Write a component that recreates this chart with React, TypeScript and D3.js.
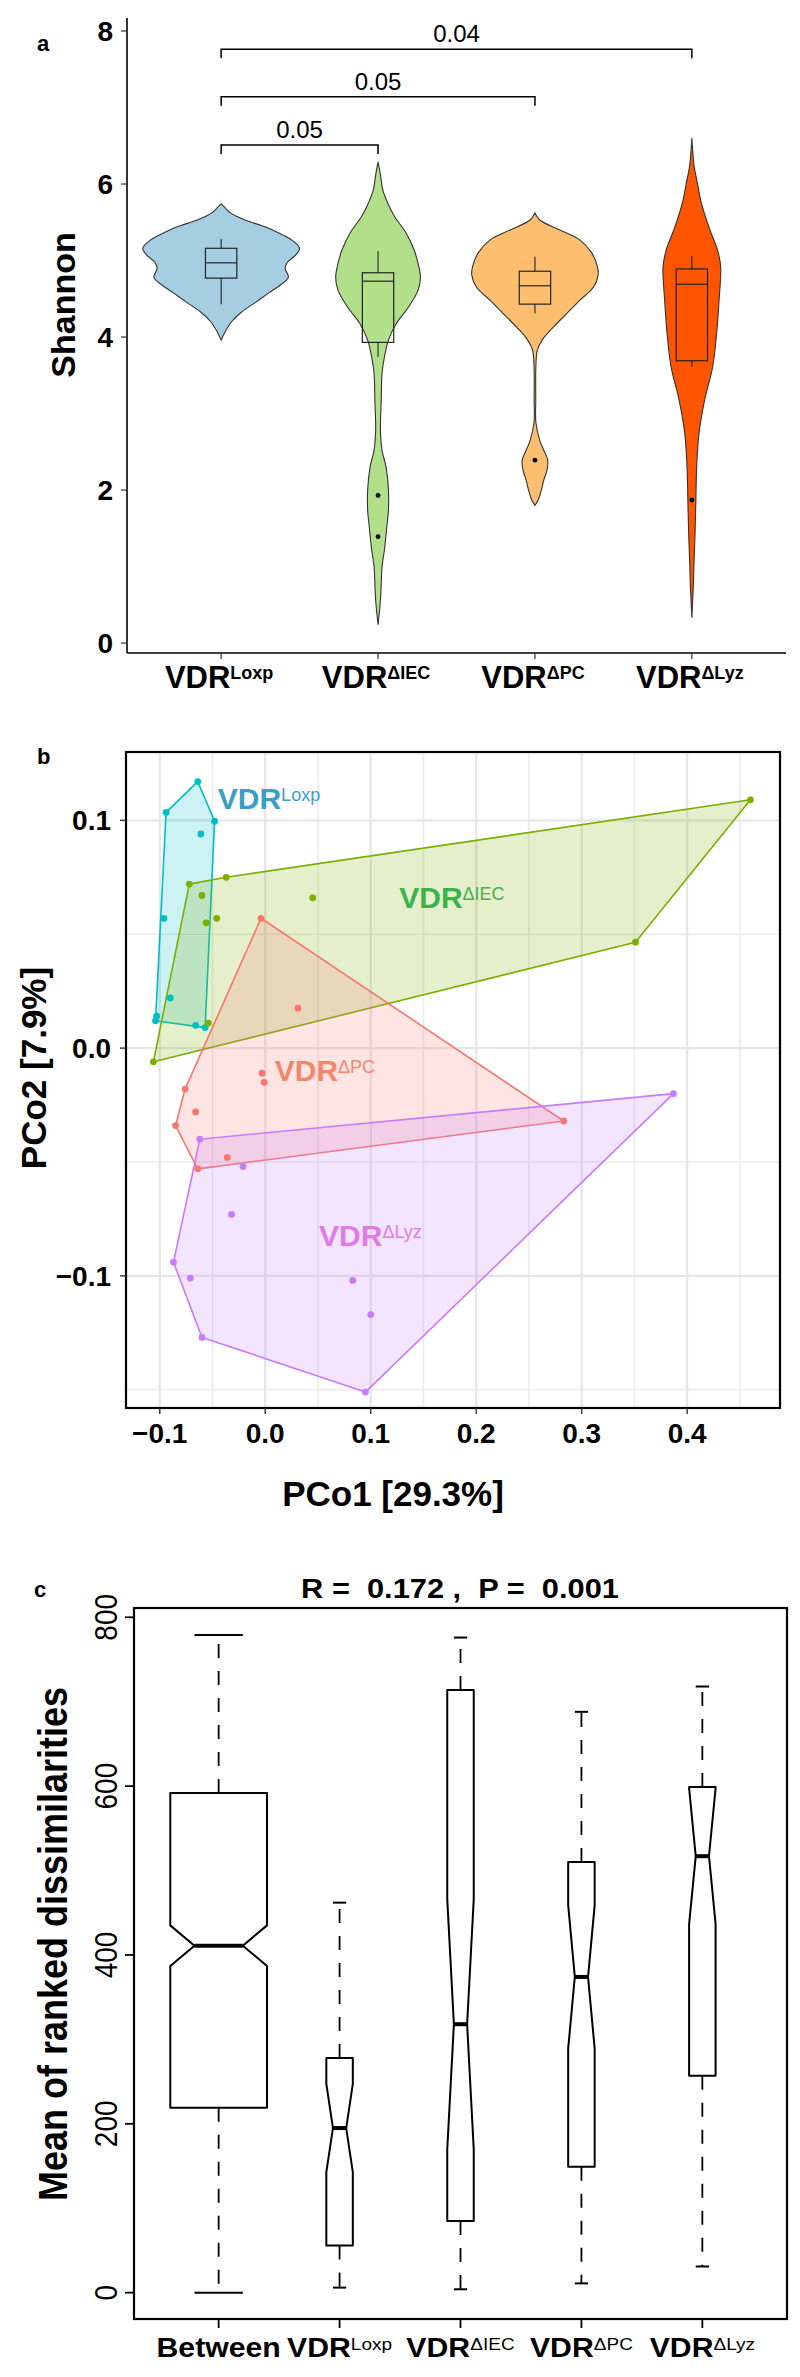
import * as d3 from "d3";

const FONT = "'Liberation Sans', Arial, sans-serif";

// ---------- panel a: Shannon violins ----------
const shannonGroups = ["Loxp", "ΔIEC", "ΔPC", "ΔLyz"];
const violinFill = ["#a6cee3", "#b2df8a", "#fdbf6f", "#ff5500"];

// [shannon value, relative density]
const loxpViolin: [number, number][] = [
  [5.74, 0], [5.7, 0.04], [5.62, 0.12], [5.53, 0.3], [5.44, 0.55], [5.36, 0.72],
  [5.27, 0.88], [5.16, 0.98], [5.07, 0.93], [4.98, 0.83], [4.9, 0.8], [4.78, 0.84],
  [4.68, 0.74], [4.58, 0.6], [4.46, 0.44], [4.33, 0.26], [4.2, 0.13], [4.07, 0.05], [3.96, 0],
];
const iecViolin: [number, number][] = [
  [6.29, 0], [6.12, 0.03], [5.92, 0.06], [5.73, 0.13], [5.57, 0.21], [5.36, 0.35],
  [5.14, 0.45], [4.92, 0.51], [4.78, 0.53], [4.61, 0.5], [4.39, 0.38], [4.18, 0.23],
  [3.96, 0.13], [3.74, 0.08], [3.53, 0.05], [3.18, 0.04], [2.78, 0.03], [2.52, 0.05],
  [2.3, 0.1], [2.0, 0.13], [1.74, 0.13], [1.52, 0.11], [1.22, 0.08], [1.0, 0.05],
  [0.78, 0.04], [0.56, 0.03], [0.24, 0],
];
const pcViolin: [number, number][] = [
  [5.62, 0], [5.53, 0.06], [5.4, 0.31], [5.27, 0.56], [5.1, 0.71], [4.92, 0.78],
  [4.81, 0.79], [4.65, 0.73], [4.48, 0.56], [4.31, 0.4], [4.13, 0.23], [3.96, 0.09],
  [3.83, 0.03], [3.63, 0.012], [3.18, 0.01], [2.88, 0.012], [2.65, 0.06], [2.52, 0.11],
  [2.39, 0.16], [2.26, 0.15], [2.13, 0.11], [2.0, 0.08], [1.87, 0.04], [1.8, 0],
];
const lyzViolin: [number, number][] = [
  [6.6, 0], [6.44, 0.01], [6.22, 0.03], [6.01, 0.07], [5.79, 0.11], [5.57, 0.17],
  [5.36, 0.24], [5.14, 0.32], [4.92, 0.36], [4.48, 0.34], [4.05, 0.31], [3.61, 0.26],
  [3.18, 0.16], [2.75, 0.09], [2.3, 0.06], [1.87, 0.05], [1.44, 0.04], [0.99, 0.025],
  [0.78, 0.02], [0.56, 0.01], [0.33, 0],
];
const violins = [loxpViolin, iecViolin, pcViolin, lyzViolin];

// [lower whisker, q1, median, q3, upper whisker]
const shannonBoxes = [
  [4.43, 4.77, 4.97, 5.16, 5.28],
  [3.74, 3.93, 4.73, 4.84, 5.12],
  [4.31, 4.43, 4.67, 4.86, 5.05],
  [3.61, 3.69, 4.69, 4.89, 5.06],
];
const shannonOutliers = [[], [1.93, 1.39], [2.39], [1.87]];
const shannonTicks = [0, 2, 4, 6, 8];
const brackets = [
  { from: 0, to: 1, level: 6.51, label: "0.05" },
  { from: 0, to: 2, level: 7.14, label: "0.05" },
  { from: 0, to: 3, level: 7.76, label: "0.04" },
];

// ---------- panel b: PCoA ----------
const pcoGroups = ["Loxp", "ΔIEC", "ΔPC", "ΔLyz"];
const pcoColor = ["#00bfc4", "#7cae00", "#f8766d", "#c77cff"];
const pcoLabelColor = ["#3a9fc8", "#3cb34a", "#f4876b", "#e07be6"];
const loxpPoints: [number, number][] = [
  [-0.064, 0.117], [-0.094, 0.1035], [-0.048, 0.0996], [-0.061, 0.094], [-0.096, 0.057],
  [-0.09, 0.022], [-0.103, 0.014], [-0.104, 0.012], [-0.066, 0.01], [-0.057, 0.009],
];
const iecPoints: [number, number][] = [
  [-0.072, 0.072], [-0.037, 0.075], [-0.06, 0.067], [-0.056, 0.055], [-0.046, 0.057],
  [0.045, 0.066], [-0.054, 0.011], [-0.106, -0.006], [0.46, 0.109], [0.351, 0.0465],
];
const pcPoints: [number, number][] = [
  [-0.004, 0.057], [0.031, 0.0175], [-0.003, -0.011], [-0.001, -0.015], [-0.076, -0.018],
  [-0.066, -0.028], [-0.085, -0.034], [0.283, -0.032], [-0.036, -0.048], [-0.064, -0.053],
];
const lyzPoints: [number, number][] = [
  [-0.062, -0.04], [-0.021, -0.052], [0.387, -0.02], [-0.032, -0.073], [-0.087, -0.094],
  [-0.071, -0.101], [0.083, -0.102], [0.1, -0.117], [-0.06, -0.127], [0.095, -0.151],
];
const pcoPoints = [loxpPoints, iecPoints, pcPoints, lyzPoints];
const pcoLabelAt: [number, number][] = [[-0.045, 0.105], [0.127, 0.0615], [0.009, -0.0145], [0.051, -0.087]];
const pco1Ticks = [-0.1, 0, 0.1, 0.2, 0.3, 0.4];
const pco1Minor = [-0.05, 0.05, 0.15, 0.25, 0.35, 0.45];
const pco2Ticks = [-0.1, 0, 0.1];
const pco2Minor = [-0.15, -0.05, 0.05];

// ---------- panel c: ANOSIM ranks ----------
const rankGroups = ["Between", "Loxp", "ΔIEC", "ΔPC", "ΔLyz"];
const rankN = [600, 45, 45, 45, 45];
const rankLow = [0, 6, 4, 11, 31];
const rankQ1 = [219, 56, 85, 149, 257];
const rankMedian = [411, 195, 318, 374, 517];
const rankQ3 = [592, 278, 714, 510, 599];
const rankHigh = [779, 462, 776, 688, 718];
const rankTicks = [0, 200, 400, 600, 800];

const fmtPco = (v: number) => (v < 0 ? "\u2212" : "") + Math.abs(v).toFixed(1);

function Label({ sup, x, y, size, supSize, color, anchor, supWeight, sx = 1 }: any) {
  return (
    <text
      transform={`translate(${x},${y}) scale(${sx},1)`}
      textAnchor={anchor}
      fontFamily={FONT}
      fill={color}
    >
      {sup === "Between" ? (
        <tspan fontWeight="bold" fontSize={size}>Between</tspan>
      ) : (
        <>
          <tspan fontWeight="bold" fontSize={size}>VDR</tspan>
          <tspan fontWeight={supWeight} fontSize={supSize} dy={-(size - supSize) * 0.66}>
            {sup}
          </tspan>
        </>
      )}
    </text>
  );
}

export default function App() {
  // panel a scales
  const xA = d3.scalePoint<string>().domain(shannonGroups).range([127, 786]).padding(0.6);
  const yA = d3.scaleLinear().domain([-0.13, 8.17]).range([653, 18]);
  const wA = d3.scaleLinear().domain([0, 1]).range([0, 80]);
  const boxHalfA = xA.step() * 0.1;

  // panel b scales
  const xB = d3.scaleLinear().domain([-0.132, 0.488]).range([126, 780]);
  const yB = d3.scaleLinear().domain([-0.158, 0.13]).range([1408, 752]);

  // panel c scales
  const xC = d3.scaleLinear().domain([0.3, 5.7]).range([134, 787]);
  const yC = d3.scaleLinear().domain([-31.2, 811]).range([2319, 1608]);
  const maxSqrt = Math.sqrt(d3.max(rankN) as number);
  const unitC = xC(1) - xC(0);

  const line = d3.line();

  return (
    <svg
      width={800}
      height={2377}
      viewBox="0 0 800 2377"
      style={{ position: "absolute", left: 0, top: 0, background: "#fff" }}
      fontFamily={FONT}
    >
      <rect x={0} y={0} width={800} height={2377} fill="#fff" />

      {/* ================= panel a ================= */}
      <text x={37} y={51} fontSize={22} fontWeight="bold">a</text>
      {violins.map((v, i) => {
        const cx = xA(shannonGroups[i]) as number;
        const area = d3
          .area<[number, number]>()
          .y((d) => yA(d[0]))
          .x0((d) => cx - wA(d[1]))
          .x1((d) => cx + wA(d[1]))
          .curve(d3.curveCatmullRom);
        const b = shannonBoxes[i];
        return (
          <g key={"v" + i}>
            <path d={area(v) as string} fill={violinFill[i]} stroke="#333" strokeWidth={1.1} />
            <line x1={cx} x2={cx} y1={yA(b[4])} y2={yA(b[3])} stroke="#222" strokeWidth={1.1} />
            <line x1={cx} x2={cx} y1={yA(b[1])} y2={yA(b[0])} stroke="#222" strokeWidth={1.1} />
            <rect
              x={cx - boxHalfA}
              width={boxHalfA * 2}
              y={yA(b[3])}
              height={yA(b[1]) - yA(b[3])}
              fill="none"
              stroke="#222"
              strokeWidth={1.2}
            />
            <line x1={cx - boxHalfA} x2={cx + boxHalfA} y1={yA(b[2])} y2={yA(b[2])} stroke="#222" strokeWidth={1.2} />
            {shannonOutliers[i].map((o, j) => (
              <circle key={j} cx={cx} cy={yA(o)} r={2.4} fill="#000" />
            ))}
          </g>
        );
      })}
      {brackets.map((br, i) => {
        const x1 = xA(shannonGroups[br.from]) as number;
        const x2 = xA(shannonGroups[br.to]) as number;
        const y = yA(br.level);
        return (
          <g key={"b" + i}>
            <path d={`M${x1},${y + 9}V${y}H${x2}V${y + 9}`} fill="none" stroke="#000" strokeWidth={1.5} />
            <text x={(x1 + x2) / 2} y={y - 7} textAnchor="middle" fontSize={24}>
              {br.label}
            </text>
          </g>
        );
      })}
      <line x1={127} x2={127} y1={18} y2={653} stroke="#000" strokeWidth={1.6} />
      <line x1={127} x2={786} y1={653} y2={653} stroke="#000" strokeWidth={1.6} />
      {shannonTicks.map((t) => (
        <g key={"ya" + t}>
          <line x1={121} x2={127} y1={yA(t)} y2={yA(t)} stroke="#333" strokeWidth={1.2} />
          <text x={113} y={yA(t) + 10} textAnchor="end" fontSize={28} fontWeight="bold">
            {t}
          </text>
        </g>
      ))}
      {shannonGroups.map((g) => (
        <g key={"xa" + g}>
          <line x1={xA(g)} x2={xA(g)} y1={653} y2={659} stroke="#333" strokeWidth={1.2} />
          <Label sup={g} x={(xA(g) as number) - 2} y={688} size={31} supSize={18} anchor="middle" supWeight="bold" />
        </g>
      ))}
      <text transform="translate(75,305) rotate(-90)" textAnchor="middle" fontSize={34} fontWeight="bold">
        Shannon
      </text>

      {/* ================= panel b ================= */}
      <text x={37} y={764} fontSize={22} fontWeight="bold">b</text>
      <g>
        {pco1Minor.map((t) => (
          <line key={"mx" + t} x1={xB(t)} x2={xB(t)} y1={752} y2={1408} stroke="#ececec" strokeWidth={1.6} />
        ))}
        {pco2Minor.map((t) => (
          <line key={"my" + t} y1={yB(t)} y2={yB(t)} x1={126} x2={780} stroke="#ececec" strokeWidth={1.6} />
        ))}
        {pco1Ticks.map((t) => (
          <line key={"gx" + t} x1={xB(t)} x2={xB(t)} y1={752} y2={1408} stroke="#e6e6e6" strokeWidth={2.2} />
        ))}
        {pco2Ticks.map((t) => (
          <line key={"gy" + t} y1={yB(t)} y2={yB(t)} x1={126} x2={780} stroke="#e6e6e6" strokeWidth={2.2} />
        ))}
      </g>
      {pcoPoints.map((pts, i) => {
        const hull = d3.polygonHull(pts.map((p) => [xB(p[0]), yB(p[1])] as [number, number]));
        return (
          <path
            key={"h" + i}
            d={"M" + (hull as [number, number][]).map((p) => p.join(",")).join("L") + "Z"}
            fill={pcoColor[i]}
            fillOpacity={0.2}
            stroke={pcoColor[i]}
            strokeWidth={1.6}
            strokeLinejoin="round"
          />
        );
      })}
      {pcoPoints.map((pts, i) =>
        pts.map((p, j) => (
          <circle key={"p" + i + "-" + j} cx={xB(p[0])} cy={yB(p[1])} r={3.4} fill={pcoColor[i]} />
        ))
      )}
      {pcoGroups.map((g, i) => (
        <Label
          key={"lb" + g}
          sup={g}
          x={xB(pcoLabelAt[i][0])}
          y={yB(pcoLabelAt[i][1])}
          size={30}
          supSize={18}
          color={pcoLabelColor[i]}
          anchor="start"
          supWeight="normal"
        />
      ))}
      <rect x={126} y={752} width={654} height={656} fill="none" stroke="#000" strokeWidth={2.2} />
      {pco2Ticks.map((t) => (
        <g key={"yb" + t}>
          <line x1={120} x2={126} y1={yB(t)} y2={yB(t)} stroke="#333" strokeWidth={1.4} />
          <text x={111} y={yB(t) + 10} textAnchor="end" fontSize={28} fontWeight="bold">
            {fmtPco(t)}
          </text>
        </g>
      ))}
      {pco1Ticks.map((t) => (
        <g key={"xb" + t}>
          <line x1={xB(t)} x2={xB(t)} y1={1408} y2={1414} stroke="#333" strokeWidth={1.4} />
          <text x={xB(t)} y={1443} textAnchor="middle" fontSize={28} fontWeight="bold">
            {fmtPco(t)}
          </text>
        </g>
      ))}
      <text x={393} y={1506} textAnchor="middle" fontSize={35} fontWeight="bold">
        PCo1 [29.3%]
      </text>
      <text transform="translate(46,1068) rotate(-90)" textAnchor="middle" fontSize={35} fontWeight="bold">
        PCo2 [7.9%]
      </text>

      {/* ================= panel c ================= */}
      <text x={34} y={1597} fontSize={22} fontWeight="bold">c</text>
      <text
        transform="translate(460,1598) scale(1.1,1)"
        textAnchor="middle"
        fontSize={28}
        fontWeight="bold"
        style={{ whiteSpace: "pre" }}
      >
        {"R =  0.172 ,  P =  0.001"}
      </text>
      {rankGroups.map((g, i) => {
        const cx = xC(i + 1);
        const w = (0.8 * unitC * Math.sqrt(rankN[i])) / maxSqrt / 2;
        const notch = (1.58 * (rankQ3[i] - rankQ1[i])) / Math.sqrt(rankN[i]);
        const nu = yC(rankMedian[i] + notch);
        const nl = yC(rankMedian[i] - notch);
        const q1 = yC(rankQ1[i]);
        const q3 = yC(rankQ3[i]);
        const md = yC(rankMedian[i]);
        const poly: [number, number][] = [
          [cx - w, q1], [cx - w, nl], [cx - w / 2, md], [cx - w, nu], [cx - w, q3],
          [cx + w, q3], [cx + w, nu], [cx + w / 2, md], [cx + w, nl], [cx + w, q1],
        ];
        return (
          <g key={"rc" + g}>
            <line x1={cx} x2={cx} y1={q3} y2={yC(rankHigh[i])} stroke="#000" strokeWidth={1.8} strokeDasharray="14 13" />
            <line x1={cx} x2={cx} y1={q1} y2={yC(rankLow[i])} stroke="#000" strokeWidth={1.8} strokeDasharray="14 13" />
            <line x1={cx - w / 2} x2={cx + w / 2} y1={yC(rankHigh[i])} y2={yC(rankHigh[i])} stroke="#000" strokeWidth={2} />
            <line x1={cx - w / 2} x2={cx + w / 2} y1={yC(rankLow[i])} y2={yC(rankLow[i])} stroke="#000" strokeWidth={2} />
            <path d={(line(poly) as string) + "Z"} fill="#fff" stroke="#000" strokeWidth={2} strokeLinejoin="round" />
            <line x1={cx - w / 2} x2={cx + w / 2} y1={md} y2={md} stroke="#000" strokeWidth={4} />
          </g>
        );
      })}
      <rect x={134} y={1608} width={653} height={711} fill="none" stroke="#000" strokeWidth={2.2} />
      {rankTicks.map((t) => (
        <g key={"yc" + t}>
          <line x1={125} x2={134} y1={yC(t)} y2={yC(t)} stroke="#000" strokeWidth={1.8} />
          <text
            transform={`translate(117,${yC(t)}) scale(1.13,1) rotate(-90)`}
            textAnchor="middle"
            fontSize={28}
          >
            {t}
          </text>
        </g>
      ))}
      {rankGroups.map((g, i) => (
        <g key={"xc" + g}>
          <line x1={xC(i + 1)} x2={xC(i + 1)} y1={2319} y2={2328} stroke="#000" strokeWidth={1.8} />
          <Label sup={g} x={xC(i + 1)} y={2357} size={27} supSize={17} anchor="middle" supWeight="normal" sx={1.12} />
        </g>
      ))}
      <text
        transform="translate(67,1944) scale(1.13,1) rotate(-90)"
        textAnchor="middle"
        fontSize={36}
        fontWeight="bold"
      >
        Mean of ranked dissimilarities
      </text>
    </svg>
  );
}
